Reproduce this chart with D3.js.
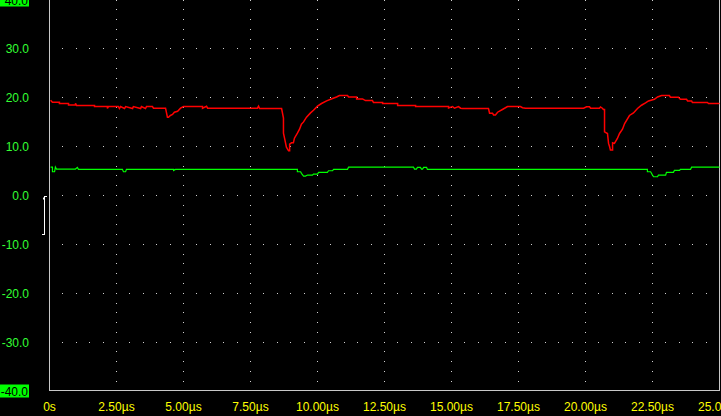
<!DOCTYPE html>
<html><head><meta charset="utf-8">
<script src="https://cdn.jsdelivr.net/npm/d3@7"></script>
<style>html,body{margin:0;padding:0;background:#000;overflow:hidden}svg{display:block}</style>
</head><body>
<svg id="c" width="721" height="416"></svg>
<script>
const xTicks = [0, 2.5, 5, 7.5, 10, 12.5, 15, 17.5, 20, 22.5, 25];
const xTickLabels = ["0s","2.50µs","5.00µs","7.50µs","10.00µs","12.50µs","15.00µs","17.50µs","20.00µs","22.50µs","25.00µs"];
const yTicks = [40, 30, 20, 10, 0, -10, -20, -30, -40];
const yTickLabels = ["40.0","30.0","20.0","10.0","0.0","-10.0","-20.0","-30.0","-40.0"];

// Channel A (red): time in µs, value
const redT = [0.04,0.11,0.37,0.37,0.71,0.71,0.97,0.97,1.01,1.68,1.68,2.16,2.16,2.20,2.57,2.61,2.65,2.80,2.84,3.10,3.13,3.40,3.43,3.58,3.62,3.84,3.88,4.33,4.40,4.44,4.51,4.59,4.66,4.78,4.89,5.00,5.71,5.71,5.86,5.90,7.76,7.80,7.84,8.66,8.73,8.73,8.77,8.84,8.92,8.96,8.96,9.03,9.10,9.14,9.25,9.33,9.40,9.48,9.59,9.74,9.85,10.00,10.15,10.34,10.56,10.71,10.82,11.12,11.16,11.46,11.46,11.68,11.79,12.05,12.09,12.43,12.43,12.99,12.99,13.66,13.66,14.89,14.89,15.04,15.11,15.26,15.34,15.41,16.38,16.42,16.53,16.57,16.64,16.72,16.90,17.09,17.57,17.65,17.76,19.93,20.04,20.15,20.19,20.52,20.56,20.63,20.67,20.71,20.71,20.82,20.86,20.90,20.93,21.01,21.01,21.08,21.19,21.27,21.38,21.46,21.64,21.79,21.94,22.09,22.24,22.35,22.57,22.69,22.84,23.13,23.17,23.47,23.54,23.77,23.81,23.96,23.99,24.55,24.59,25.00];
const redV = [19.49,19.08,19.08,18.82,18.82,18.53,18.53,18.88,18.41,18.41,18.20,18.20,17.80,18.20,18.20,17.80,18.20,17.80,18.20,17.80,18.20,17.80,18.20,17.80,18.20,18.20,17.86,17.86,16.02,16.02,16.37,16.57,17.04,17.24,17.86,18.20,18.20,17.86,18.27,17.86,17.86,18.27,17.80,17.80,15.82,12.76,11.73,9.90,9.14,9.14,10.51,10.78,10.78,11.73,12.76,13.57,14.59,15.06,16.02,16.90,17.45,18.27,18.82,19.35,19.84,20.16,20.45,20.45,20.16,20.16,19.76,19.76,19.43,19.43,19.02,19.02,18.82,18.82,18.41,18.41,18.20,18.20,17.92,18.20,17.86,18.20,17.86,17.80,17.80,16.84,16.84,16.49,16.49,17.04,17.59,18.20,18.20,17.96,17.86,17.86,18.16,18.16,17.86,17.86,18.12,17.86,17.59,17.59,13.02,12.69,10.65,9.96,9.29,9.29,10.78,10.65,11.67,12.69,13.57,14.73,16.37,16.90,17.80,18.47,18.94,19.35,19.69,20.16,20.45,20.45,20.10,20.10,19.69,19.69,19.35,19.35,19.02,19.02,18.82,18.82];

// Channel B (green)
const greenT = [0.04,0.11,0.11,0.19,0.22,0.26,0.97,1.04,1.08,2.72,2.76,2.84,2.87,4.63,4.63,4.70,9.25,9.25,9.37,9.40,9.48,9.55,9.63,9.81,9.85,10.00,10.04,10.37,10.41,10.56,10.60,11.12,11.16,13.58,13.62,13.69,13.73,13.84,13.88,13.92,13.96,14.07,14.10,22.31,22.31,22.43,22.50,22.54,22.69,22.72,22.99,23.02,23.28,23.32,23.51,23.54,23.92,23.96,25.00];
const greenV = [5.82,5.82,4.86,4.86,5.82,5.41,5.41,5.76,5.35,5.35,4.86,4.86,5.35,5.35,5.14,5.35,5.35,4.86,4.86,4.53,3.98,3.98,4.18,4.18,4.39,4.39,4.73,4.73,5.06,5.06,5.35,5.35,5.82,5.82,5.41,5.41,5.76,5.76,5.41,5.41,5.76,5.76,5.35,5.35,4.86,4.86,4.18,3.84,3.84,4.18,4.18,4.73,4.73,5.14,5.14,5.35,5.35,5.82,5.82];

const svg = d3.select("#c");
svg.append("rect").attr("width",721).attr("height",416).attr("fill","#000");

const x = d3.scaleLinear().domain([0,25]).range([49.5,719.5]);
const y = d3.scaleLinear().domain([-40,40]).range([391,0]);

const font = "'Liberation Sans', Arial, sans-serif";
const dotCol = "#d0d0d0";

// grid dots: horizontal rows
const gridRows = yTicks.filter(v => v > -40 && v < 40);
const rowDots = [];
gridRows.forEach(v => { for (let k = 1; k < 50; k++) rowDots.push([k*0.5, v]); });
const colDots = [];
xTicks.filter(t => t > 0 && t < 25).forEach(t => { for (let j = 0; j < 40; j++) colDots.push([t, 40 - j*2]); });
svg.append("g").selectAll("rect").data(rowDots.concat(colDots)).join("rect")
  .attr("x", d => Math.floor(x(d[0])))
  .attr("y", d => Math.floor(y(d[1])))
  .attr("width",1).attr("height",1).attr("fill",dotCol);

// axes lines
svg.append("line").attr("x1",x(0)).attr("x2",x(0)).attr("y1",0).attr("y2",y(-40)).attr("stroke","#c8c8c8").attr("stroke-width",1).attr("shape-rendering","crispEdges");
svg.append("line").attr("x1",x(0)).attr("x2",x(25)).attr("y1",390.5).attr("y2",390.5).attr("stroke","#c8c8c8").attr("stroke-width",1).attr("shape-rendering","crispEdges");
svg.append("line").attr("x1",x(25)-0.5).attr("x2",x(25)-0.5).attr("y1",0).attr("y2",391).attr("stroke","#c8c8c8").attr("stroke-width",1).attr("shape-rendering","crispEdges");

// traces
const line = d3.line().x(d => x(d[0])).y(d => y(d[1]));
svg.append("path").datum(greenT.map((t,i)=>[t,greenV[i]])).attr("d",line)
  .attr("fill","none").attr("stroke","#00ff00").attr("stroke-width",1.2);
svg.append("path").datum(redT.map((t,i)=>[t,redV[i]])).attr("d",line)
  .attr("fill","none").attr("stroke","#ff0000").attr("stroke-width",1.5);

// y labels
const yl = svg.append("g");
yTicks.forEach((v,i) => {
  const boxed = (v === 40 || v === -40);
  if (boxed) {
    yl.append("rect").attr("x",0).attr("y",y(v)-6.5).attr("width",29).attr("height",13).attr("fill","#00ff00");
  }
  yl.append("text").attr("x",boxed?28:29).attr("y",y(v)+4.5).attr("text-anchor","end")
    .attr("font-family",font).attr("font-size",12)
    .attr("fill", boxed ? "#000" : "#33ff33").text(yTickLabels[i]);
});

// channel marker
svg.append("path")
  .attr("d", `M${x(0)-2.5},${y(0)+1} H${x(0)-5.5} V${y(-8)} H${x(0)-7.5}`)
  .attr("fill","none").attr("stroke","#fff").attr("stroke-width",1).attr("shape-rendering","crispEdges");
svg.append("rect").attr("x",x(0)-6.5).attr("y",y(0)+2).attr("width",2).attr("height",2).attr("fill","#fff");

// x labels
const xl = svg.append("g");
xTicks.forEach((t,i) => {
  xl.append("text").attr("x",x(t)).attr("y",411).attr("text-anchor","middle")
    .attr("font-family",font).attr("font-size",12).attr("fill","#ffff00").text(xTickLabels[i]);
});
</script>
</body></html>
